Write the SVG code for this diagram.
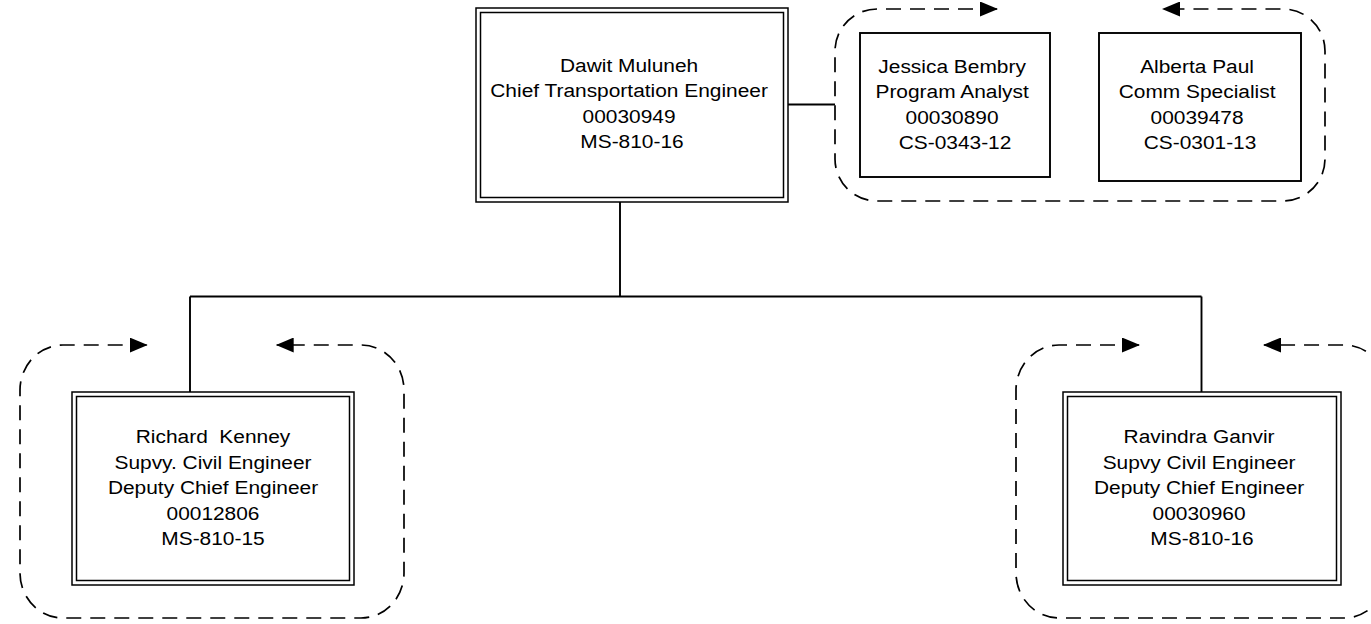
<svg xmlns="http://www.w3.org/2000/svg" width="1371" height="624" viewBox="0 0 1371 624">
<style>
.bg{fill:#fff}
.box{fill:none;stroke:#000;stroke-width:1.9}
.dbl{fill:none;stroke:#000;stroke-width:1.5}
.conn{fill:none;stroke:#000;stroke-width:1.9}
.frame{fill:none;stroke:#000;stroke-width:1.7;stroke-dasharray:15 9;marker-start:url(#ah);marker-end:url(#ah)}
.t{font-family:"Liberation Sans",Arial,sans-serif;font-size:19px;fill:#000;text-anchor:middle}
</style>
<defs>
<marker id="ah" markerUnits="userSpaceOnUse" markerWidth="18" markerHeight="15" refX="17" refY="7.5" orient="auto-start-reverse">
<path d="M0,0 L18,7.5 L0,15 Z" fill="#000"/>
</marker>
</defs>
<rect class="bg" x="0" y="0" width="1371" height="624"/>

<g id="connectors">
<path class="conn" d="M788,104.5 H835"/>
<path class="conn" d="M620,202 V296.5"/>
<path class="conn" d="M190,296.5 H1201.5"/>
<path class="conn" d="M190,296.5 V392"/>
<path class="conn" d="M1201.5,296.5 V392"/>
</g>

<g id="frame-top">
<path class="frame" d="M997,9 H877 A42,42 0 0 0 835,51 V159 A42,42 0 0 0 877,201 H1283 A42,42 0 0 0 1325,159 V51 A42,42 0 0 0 1283,9 H1163"/>
</g>
<g id="frame-left">
<path class="frame" d="M146.7,345 H63 A43,45 0 0 0 20,390 V573 A43,45 0 0 0 63,618 H361 A43,45 0 0 0 404,573 V390 A43,45 0 0 0 361,345 H276.7"/>
</g>
<g id="frame-right">
<path class="frame" d="M1139,345 H1059 A43,45 0 0 0 1016,390 V573 A43,45 0 0 0 1059,618 H1344 A43,45 0 0 0 1387,573 V390 A43,45 0 0 0 1344,345 H1264"/>
</g>

<g id="node-muluneh">
<rect class="dbl" x="476" y="8" width="312" height="194"/>
<rect class="dbl" x="480.5" y="12.5" width="303" height="185"/>
<text class="t" transform="translate(632 0) scale(1.1 1)">
<tspan x="0" y="72">Dawit Muluneh</tspan>
<tspan x="0" y="97.5">Chief Transportation Engineer</tspan>
<tspan x="0" y="123">00030949</tspan>
<tspan x="0" y="148.5">MS-810-16</tspan>
</text>
</g>

<g id="node-bembry">
<rect class="box" x="860" y="33" width="190" height="144"/>
<text class="t" transform="translate(955 0) scale(1.1 1)">
<tspan x="0" y="73">Jessica Bembry</tspan>
<tspan x="0" y="98.5">Program Analyst</tspan>
<tspan x="0" y="124">00030890</tspan>
<tspan x="0" y="149.5">CS-0343-12</tspan>
</text>
</g>

<g id="node-paul">
<rect class="box" x="1099" y="33" width="202" height="148"/>
<text class="t" transform="translate(1200 0) scale(1.1 1)">
<tspan x="0" y="73">Alberta Paul</tspan>
<tspan x="0" y="98.5">Comm Specialist</tspan>
<tspan x="0" y="124">00039478</tspan>
<tspan x="0" y="149.5">CS-0301-13</tspan>
</text>
</g>

<g id="node-kenney">
<rect class="dbl" x="72" y="392" width="282" height="193"/>
<rect class="dbl" x="76.5" y="396.5" width="273" height="184"/>
<text class="t" transform="translate(213 0) scale(1.1 1)" xml:space="preserve"><tspan x="0" y="443.5">Richard  Kenney</tspan><tspan x="0" y="469">Supvy. Civil Engineer</tspan><tspan x="0" y="494.5">Deputy Chief Engineer</tspan><tspan x="0" y="520">00012806</tspan><tspan x="0" y="545.5">MS-810-15</tspan></text>
</g>

<g id="node-ganvir">
<rect class="dbl" x="1063" y="392" width="278" height="193"/>
<rect class="dbl" x="1067.5" y="396.5" width="269" height="184"/>
<text class="t" transform="translate(1202 0) scale(1.1 1)">
<tspan x="0" y="443.5">Ravindra Ganvir</tspan>
<tspan x="0" y="469">Supvy Civil Engineer</tspan>
<tspan x="0" y="494.5">Deputy Chief Engineer</tspan>
<tspan x="0" y="520">00030960</tspan>
<tspan x="0" y="545.5">MS-810-16</tspan>
</text>
</g>
</svg>
